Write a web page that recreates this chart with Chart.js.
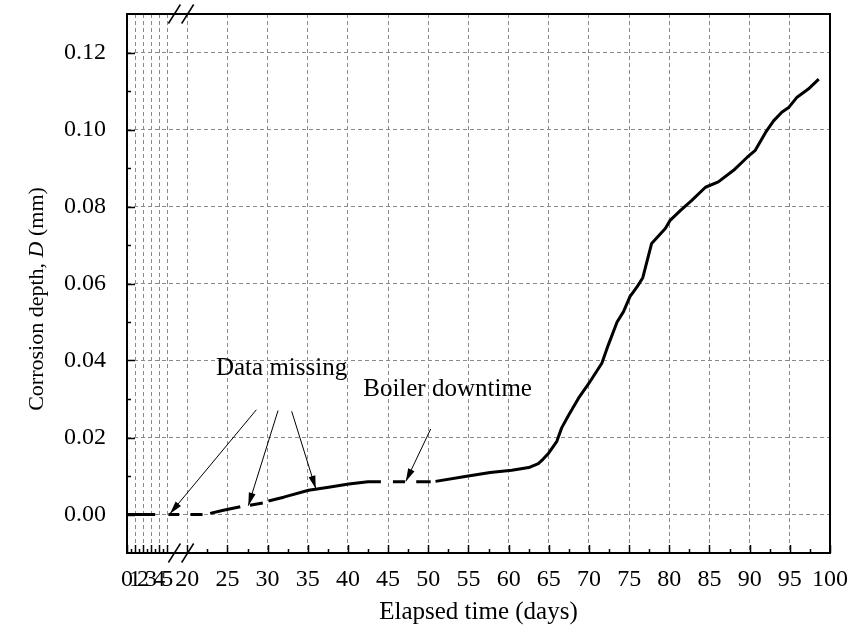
<!DOCTYPE html>
<html><head><meta charset="utf-8">
<script src="https://cdn.jsdelivr.net/npm/chart.js@4"></script>
<style>html,body{margin:0;padding:0;background:#fff}canvas{display:block}</style>
</head><body>
<canvas id="c" width="863" height="637"></canvas>
<script>
// ---- data (days, mm) ----
const xTickDays = [0,1,2,3,4,5,20,25,30,35,40,45,50,55,60,65,70,75,80,85,90,95,100];
const xMinorDays = [0.5,1.5,2.5,3.5,4.5,22.5,27.5,32.5,37.5,42.5,47.5,52.5,57.5,62.5,67.5,72.5,77.5,82.5,87.5,92.5,97.5];
const yTickValues = [0,0.02,0.04,0.06,0.08,0.10,0.12];
const yMinorValues = [0.01,0.03,0.05,0.07,0.09,0.11];

const days = [0,3.5,4.5, 17.65,19.0,19.7, 20.4,21.9,22.4, 22.85,24.5,26.6,27.2, 27.8,29.4,29.7,
  30.1,32.0,35.1,37.6,40.1,42.5,44.1,44.9, 45.6,47.1,47.8, 48.5,50.3,50.6,
  50.9,54.4,57.7,60.4,62.5,63.7,64.3,65.0,66.0,66.6,67.5,68.7,70.0,71.6,72.4,73.5,74.3,75.1,76.0,76.7,
  77.8,79.5,80.1,81.4,82.8,84.5,86.1,88.0,89.7,90.7,92.0,93.0,94.0,94.9,95.9,97.3,98.6];
const depth = [0,0,null, 0,0,null, 0,0,null, 0.0003,0.0011,0.0020,null, 0.0024,0.0030,null,
  0.0035,0.0045,0.0063,0.0071,0.0079,0.0085,0.0085,null, 0.0085,0.0085,null, 0.0085,0.0085,null,
  0.0086,0.0098,0.0109,0.0115,0.0122,0.0132,0.0144,0.0160,0.0190,0.0225,0.0259,0.0302,0.0341,0.0393,0.0440,0.0500,0.0527,0.0566,0.0592,0.0615,
  0.0704,0.0743,0.0764,0.0790,0.0816,0.0850,0.0864,0.0894,0.0928,0.0946,0.0993,0.1023,0.1045,0.1058,0.1084,0.1105,0.1131];

const annotationTexts = ['Data missing','Boiler downtime'];
const annotationAt = [[31.74,0.0363],[52.4,0.0307]];
const arrowFrom = [[28.6,0.0272],[31.3,0.0270],[33.0,0.0268],[50.3,0.0222]];
const arrowTo   = [[17.85,0.0002],[27.6,0.0023],[36.0,0.0067],[47.2,0.0086]];

// broken axis: 0-5 then 17.5-100
const SHIFT = 12.5;
function toAxis(d){ return d <= 5 ? d : d - SHIFT; }
const SERIF = '"Liberation Serif","Times New Roman",serif';

const points = days.map((d,i)=>({x: toAxis(d), y: depth[i]}));

const decor = {
  id:'decor',
  afterDraw(chart){
    const {ctx, chartArea:a, scales:{x,y}} = chart;
    const px = d => x.getPixelForValue(toAxis(d));
    const py = v => y.getPixelForValue(v);
    ctx.save();
    // frame
    ctx.strokeStyle='#000'; ctx.lineWidth=2;
    ctx.strokeRect(a.left, a.top, a.right-a.left, a.bottom-a.top);
    // ticks inward
    ctx.lineWidth=1.5;
    ctx.beginPath();
    xTickDays.forEach(d=>{const X=Math.round(px(d))+0.5; ctx.moveTo(X,a.bottom); ctx.lineTo(X,a.bottom-8);});
    xMinorDays.forEach(d=>{const X=Math.round(px(d))+0.5; ctx.moveTo(X,a.bottom); ctx.lineTo(X,a.bottom-4);});
    yTickValues.forEach(v=>{const Y=Math.round(py(v))+0.5; ctx.moveTo(a.left,Y); ctx.lineTo(a.left+8,Y);});
    yMinorValues.forEach(v=>{const Y=Math.round(py(v))+0.5; ctx.moveTo(a.left,Y); ctx.lineTo(a.left+4,Y);});
    ctx.stroke();
    // break marks
    const bx = [px(18.4), px(20.05)];
    ctx.lineWidth=1.5;
    [a.top, a.bottom].forEach(Y=>{
      bx.forEach(X=>{ctx.beginPath(); ctx.moveTo(X-6,Y+9.5); ctx.lineTo(X+6,Y-9.5); ctx.stroke();});
    });
    // arrows
    ctx.lineWidth=1; ctx.fillStyle='#000';
    arrowFrom.forEach((f,i)=>{
      const x1=px(f[0]), y1=py(f[1]), x2=px(arrowTo[i][0]), y2=py(arrowTo[i][1]);
      ctx.beginPath(); ctx.moveTo(x1,y1); ctx.lineTo(x2,y2); ctx.stroke();
      const ang=Math.atan2(y2-y1,x2-x1), L=13, W=3.5;
      ctx.beginPath(); ctx.moveTo(x2,y2);
      ctx.lineTo(x2-L*Math.cos(ang)+W*Math.sin(ang), y2-L*Math.sin(ang)-W*Math.cos(ang));
      ctx.lineTo(x2-L*Math.cos(ang)-W*Math.sin(ang), y2-L*Math.sin(ang)+W*Math.cos(ang));
      ctx.closePath(); ctx.fill();
    });
    // annotation texts
    ctx.font = '25px '+SERIF; ctx.textAlign='center'; ctx.textBaseline='alphabetic';
    annotationTexts.forEach((t,i)=>{ ctx.fillText(t, px(annotationAt[i][0]), py(annotationAt[i][1])); });
    // y title with italic D
    const parts = [['Corrosion depth, ','normal'],['D','italic'],[' (mm)','normal']];
    let total=0; const widths=[];
    parts.forEach(p=>{ctx.font=p[1]+' 22px '+SERIF; const w=ctx.measureText(p[0]).width; widths.push(w); total+=w;});
    ctx.translate(37, (a.top+a.bottom)/2 + 15.5);
    ctx.rotate(-Math.PI/2);
    ctx.textAlign='left'; ctx.textBaseline='middle';
    let cx=-total/2;
    parts.forEach((p,i)=>{ctx.font=p[1]+' 22px '+SERIF; ctx.fillText(p[0],cx,0); cx+=widths[i];});
    ctx.restore();
  }
};

new Chart(document.getElementById('c'), {
  type:'line',
  data:{datasets:[{data:points, borderColor:'#000', borderWidth:3, pointRadius:0, spanGaps:false, tension:0, borderCapStyle:'butt', borderJoinStyle:'round'}]},
  options:{
    responsive:false, animation:false, devicePixelRatio:1,
    layout:{padding:{top:14,right:33,left:0,bottom:0}},
    plugins:{legend:{display:false}, tooltip:{enabled:false}},
    scales:{
      x:{type:'linear', min:0, max:toAxis(100),
        afterBuildTicks:s=>{s.ticks = xTickDays.map(d=>({value:toAxis(d)}));},
        afterFit:s=>{s.height=84; s.paddingLeft=0; s.paddingRight=0;},
        ticks:{autoSkip:false, maxRotation:0, minRotation:0, padding:12, color:'#000', font:{family:SERIF,size:24},
          callback:(v)=>{const d=xTickDays.find(t=>Math.abs(toAxis(t)-v)<1e-6); return d===undefined?'':String(d);}},
        grid:{drawTicks:false, lineWidth:1, color:c=>{const v=c.tick&&c.tick.value; return (v===0||Math.abs(v-toAxis(100))<1e-6)?'rgba(0,0,0,0)':'#8a8a8a';}},
        border:{display:false, dash:[4,3]},
        title:{display:true, text:'Elapsed time (days)', color:'#000', font:{family:SERIF,size:25}, padding:{top:0,bottom:10}}
      },
      y:{type:'linear', min:-0.01, max:0.13,
        afterBuildTicks:s=>{s.ticks = yTickValues.map(v=>({value:v}));},
        afterFit:s=>{s.width=127; s.paddingTop=0; s.paddingBottom=0;},
        ticks:{padding:21, color:'#000', font:{family:SERIF,size:24}, callback:v=>v.toFixed(2)},
        grid:{drawTicks:false, lineWidth:1, color:'#8a8a8a'},
        border:{display:false, dash:[4,3]}
      }
    }
  },
  plugins:[decor]
});
</script>
</body></html>
